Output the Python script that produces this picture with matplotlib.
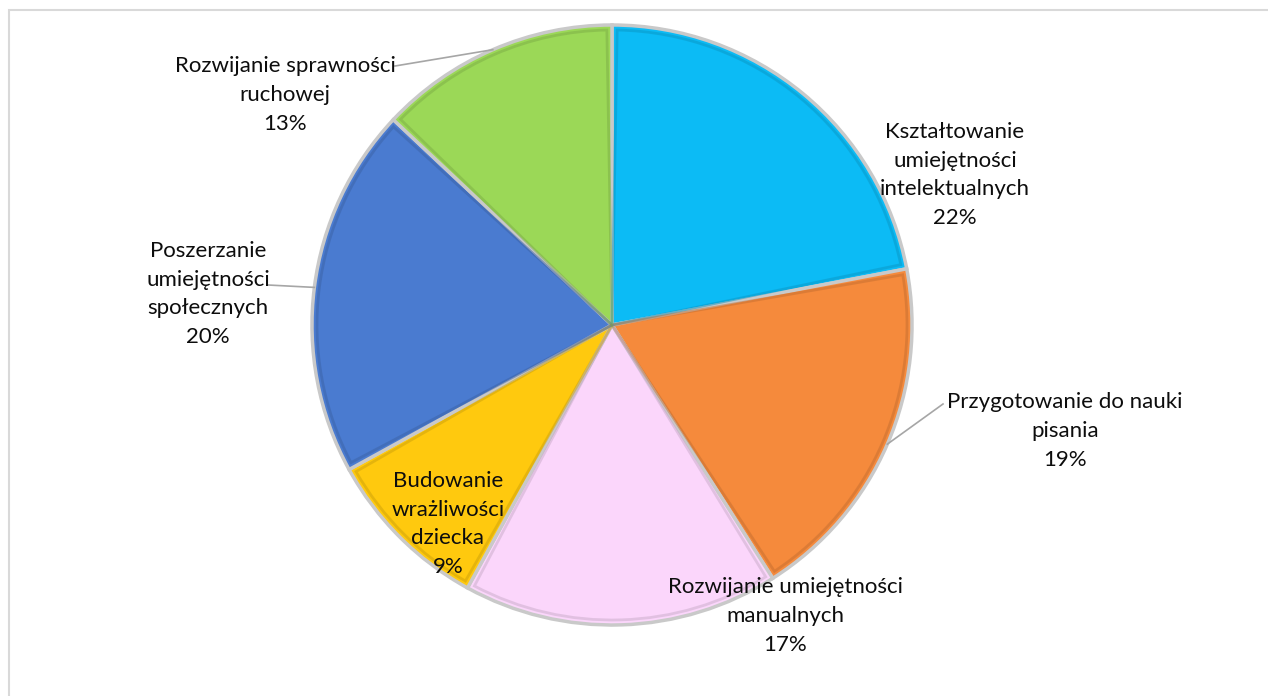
import numpy as np
import matplotlib
matplotlib.use("Agg")
import matplotlib.pyplot as plt
from matplotlib.patches import Rectangle, Wedge

categories = [
    "Kształtowanie\numiejętności\nintelektualnych",
    "Przygotowanie do nauki\npisania",
    "Rozwijanie umiejętności\nmanualnych",
    "Budowanie\nwrażliwości\ndziecka",
    "Poszerzanie\numiejętności\nspołecznych",
    "Rozwijanie sprawności\nruchowej",
]
values = [22, 19, 17, 9, 20, 13]
colors = ["#0CBBF5", "#F58A3C", "#FBD6FB", "#FFC90E", "#4A7BD0", "#9BD857"]
explode = [0.015, 0.02, 0.0, 0.0, 0.0, 0.0]

W, H = 1268, 696
fig = plt.figure(figsize=(W / 100, H / 100), dpi=100)
ax = fig.add_axes([0, 0, 1, 1])

def py(y):
    return H - y

cx, cy, R = 612, py(325), 300

wedges, _ = ax.pie(values, colors=colors, explode=explode, startangle=90,
                   counterclock=False, center=(cx, cy), radius=R,
                   wedgeprops=dict(edgecolor="#c9c9c9", linewidth=2.5))

ax.set_xlim(0, W)
ax.set_ylim(0, H)
ax.set_aspect("equal")
ax.axis("off")

# frame (top and left border of the chart area)
ax.add_patch(Rectangle((9, -20), W + 40, py(10) + 20, fill=False,
                       edgecolor="#d9d9d9", linewidth=1.5))

# simple bevel: darker inner rim
def darker(c, f=0.8):
    r, g, b = matplotlib.colors.to_rgb(c)
    return (r * f, g * f, b * f)

for w, c in zip(wedges, colors):
    w2 = Wedge((w.center[0], w.center[1]), w.r - 5,
               w.theta1 + 1.0, w.theta2 - 1.0,
               facecolor="none", edgecolor=darker(c),
               linewidth=2.0, alpha=0.5)
    ax.add_patch(w2)

# labels
pcts = [f"{v}%" for v in values]
label_pos = [(955, 175), (1065, 431), (785, 616), (448, 524), (208, 294), (285, 95)]
font = dict(family=["Lato", "DejaVu Sans"], fontsize=16, color="#0d0d0d",
            ha="center", va="center", linespacing=1.56)
for cat, p, (lx, ly) in zip(categories, pcts, label_pos):
    ax.text(lx, py(ly), cat + "\n" + p, **font)

# leader lines: from label side to the wedge's mid-angle point on the rim
def edge_point(i):
    w = wedges[i]
    ang = np.deg2rad(0.5 * (w.theta1 + w.theta2))
    return (w.center[0] + w.r * np.cos(ang), w.center[1] + w.r * np.sin(ang))

leaders = {1: (943, 404), 4: (268, 285), 5: (395, 66)}
for i, (lx, ly) in leaders.items():
    ex, ey = edge_point(i)
    ax.plot([lx, ex], [py(ly), ey], color="#a6a6a6", linewidth=1.2)

fig.savefig("out.png", dpi=100)
